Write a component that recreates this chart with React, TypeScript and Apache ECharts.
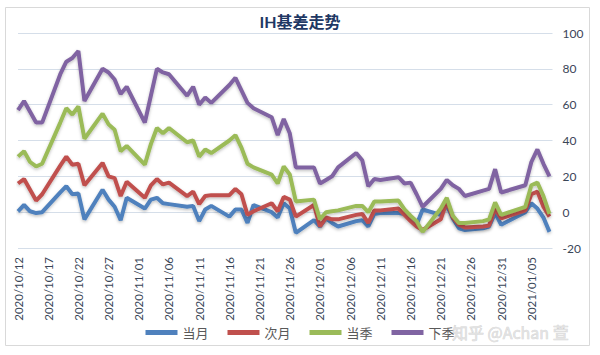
import React, { useEffect, useRef } from 'react';
import * as echarts from 'echarts';

const dates = [
  '2020/10/12', '2020/10/13', '2020/10/14', '2020/10/15', '2020/10/16',
  '2020/10/19', '2020/10/20', '2020/10/21', '2020/10/22', '2020/10/23',
  '2020/10/26', '2020/10/27', '2020/10/28', '2020/10/29', '2020/10/30',
  '2020/11/02', '2020/11/03', '2020/11/04', '2020/11/05', '2020/11/06',
  '2020/11/09', '2020/11/10', '2020/11/11', '2020/11/12', '2020/11/13',
  '2020/11/16', '2020/11/17', '2020/11/18', '2020/11/19', '2020/11/20',
  '2020/11/23', '2020/11/24', '2020/11/25', '2020/11/26', '2020/11/27',
  '2020/11/30', '2020/12/01', '2020/12/02', '2020/12/03', '2020/12/04',
  '2020/12/07', '2020/12/08', '2020/12/09', '2020/12/10', '2020/12/11',
  '2020/12/14', '2020/12/15', '2020/12/16', '2020/12/17', '2020/12/18',
  '2020/12/21', '2020/12/22', '2020/12/23', '2020/12/24', '2020/12/25',
  '2020/12/28', '2020/12/29', '2020/12/30', '2020/12/31',
  '2021/01/04', '2021/01/05', '2021/01/06', '2021/01/07', '2021/01/08',
];

// 当月
const dangYue = [
  0.5, 4, 0.5, -0.5, 0,
  11, 14.5, 10, 10.5, -4,
  12.5, 7, 3, -4.5, 8,
  2, 7, 8, 5, 4.5,
  3, 3.5, -5, 1.5, 3.5,
  -2.5, 1.5, 1.5, -6, 4,
  0, -3, 5, 2, -11.5,
  -4.5, -8, -3.5, -6, -8,
  -5, -4.5, -8, -1, -0.5,
  -0.5, -1, -3, -7, 1.5,
  -1.5, 4, -3.5, -9, -10,
  -9, -8, -0.5, -7,
  0, 5, 2, -3, -11,
];

// 次月
const ciYue = [
  16, 18.5, 12.5, 6.5, 10,
  26, 31, 26.5, 27, 15,
  27.5, 20, 19, 9, 17,
  8, 15, 18.5, 15.5, 16.5,
  9, 11.5, 4.5, 9, 9.5,
  9.5, 13, 10, -1.5, 0.5,
  5, 0.5, 8.5, 7, -2.5,
  4, -8, -3, -4, -4,
  -1.5, -1, -6, 1, 1,
  2, -1.5, -5, -8, -10,
  -4, 6, -3, -7, -8.5,
  -8, -7.5, 2, -3.5,
  1, 10, 11.5, 3, -2.5,
];

// 当季
const dangJi = [
  31, 34, 28, 25.5, 27,
  50, 58, 54.5, 59, 41,
  55, 49, 46, 34, 37,
  26.5, 38, 47, 44, 47,
  39, 40, 31, 35, 33,
  40, 43, 36, 27, 25,
  21, 16, 25.5, 21, 6,
  7, -4, 0, 0.5, 1,
  3.5, 3.5, 0, 6, 6,
  6.5, 1.5, -2, -5, -11,
  2, 8, -2, -6, -6,
  -5, -4, 5.5, -1.5,
  3, 15, 16.5, 9, -1,
];

// 下季
const xiaJi = [
  57, 62, 56, 50, 50,
  77, 84, 86, 90, 62,
  80, 78, 74, 66, 70,
  50, 65, 80, 78, 77,
  65, 70, 60, 64, 61,
  71, 75, 68, 61, 58,
  53, 43, 52, 44, 25,
  25, 16, 18, 20, 25,
  33, 29, 14.5, 18.5, 18,
  19.5, 16, 16.5, 10, 3,
  13, 18, 15, 13, 9,
  12, 13, 24, 11,
  15, 28, 35, 27, 20,
];

const seriesNames = ['当月', '次月', '当季', '下季'];
const seriesColors = ['#4F81BD', '#C0504D', '#9BBB59', '#8064A2'];

const BASE = Date.UTC(2020, 9, 12);
const pad = (n: number) => (n < 10 ? '0' + n : '' + n);
const dayIndex = (s: string) => {
  const [y, m, d] = s.split('/').map(Number);
  return (Date.UTC(y, m - 1, d) - BASE) / 86400000;
};
const fmtDay = (v: number) => {
  const dt = new Date(BASE + Math.round(v) * 86400000);
  return `${dt.getUTCFullYear()}/${pad(dt.getUTCMonth() + 1)}/${pad(dt.getUTCDate())}`;
};

const textColor = '#3a4658';
const fontFamily = "Lato, 'Noto Sans CJK SC', sans-serif";

export default function App() {
  const ref = useRef<HTMLDivElement>(null);

  useEffect(() => {
    if (!ref.current) return;
    const chart = echarts.init(ref.current, undefined, { renderer: 'svg' });
    const xs = dates.map(dayIndex);
    const all = [dangYue, ciYue, dangJi, xiaJi];

    chart.setOption({
      animation: false,
      backgroundColor: '#ffffff',
      title: {
        text: 'IH基差走势',
        left: 'center',
        top: 8,
        textStyle: { fontSize: 16, fontWeight: 'bold', color: '#1F3864', fontFamily },
      },
      grid: { left: 18, right: 47.5, top: 33, bottom: 107, containLabel: false },
      xAxis: {
        type: 'value',
        min: 0,
        max: 88.5,
        interval: 5,
        axisLine: { show: false },
        axisTick: { show: false },
        splitLine: { show: false },
        axisLabel: {
          rotate: 90,
          margin: 9,
          fontSize: 11.5,
          color: textColor,
          fontFamily,
          showMaxLabel: false,
          formatter: (v: number) => fmtDay(v),
        },
      },
      yAxis: {
        type: 'value',
        position: 'right',
        min: -20,
        max: 100,
        interval: 20,
        axisLine: { show: false },
        axisTick: { show: false },
        splitLine: { lineStyle: { color: '#D5DEE9', width: 1 } },
        axisLabel: { margin: 10, fontSize: 12, color: textColor, fontFamily },
      },
      legend: {
        bottom: 11,
        left: 'center',
        itemWidth: 32,
        itemHeight: 5,
        itemGap: 19,
        icon: 'rect',
        textStyle: { fontSize: 13, color: '#595959', fontFamily },
        data: seriesNames,
      },
      series: all.map((vals, i) => ({
        name: seriesNames[i],
        type: 'line',
        symbol: 'none',
        data: vals.map((v, j) => [xs[j], v]),
        itemStyle: { color: seriesColors[i] },
        lineStyle: {
          color: seriesColors[i],
          width: 4,
          shadowColor: 'rgba(0,0,0,0.25)',
          shadowBlur: 3,
          shadowOffsetY: 1.5,
        },
        z: 2 + i,
      })),
      graphic: [
        {
          type: 'rect',
          shape: { x: 5.5, y: 7.5, width: 584, height: 338 },
          style: { fill: 'none', stroke: '#D9D9D9', lineWidth: 1 },
          silent: true,
        },
        {
          type: 'text',
          x: 452,
          y: 324,
          style: {
            text: '知乎 @Achan 萱',
            fontSize: 16,
            fill: 'rgba(225,225,225,0.95)',
            stroke: 'rgba(160,160,160,0.5)',
            lineWidth: 0.6,
            fontFamily: "'Noto Sans CJK SC', sans-serif",
          },
          silent: true,
          z: 100,
        },
      ],
    });

    return () => chart.dispose();
  }, []);

  return (
    <div
      ref={ref}
      style={{ position: 'absolute', left: 0, top: 0, width: 600, height: 355 }}
    />
  );
}
